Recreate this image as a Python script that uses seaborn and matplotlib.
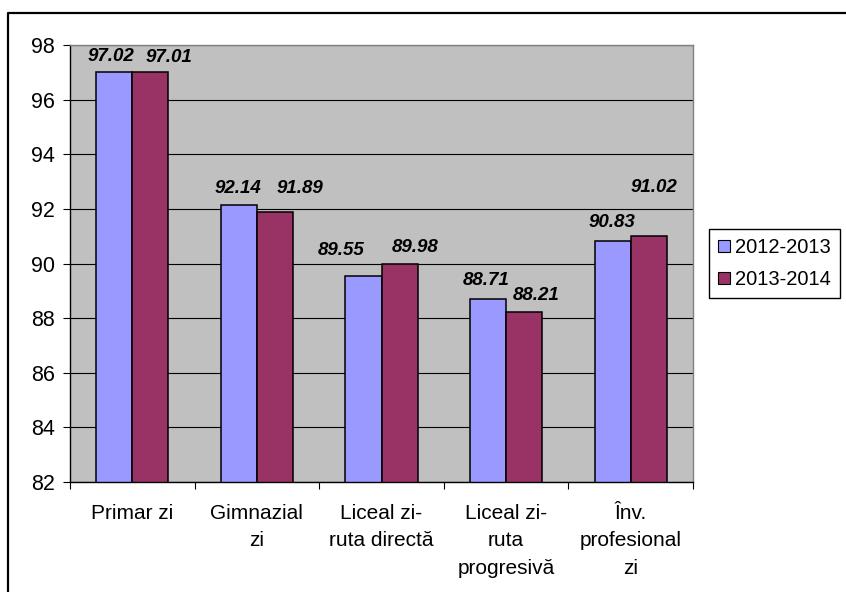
import pandas as pd
import matplotlib.pyplot as plt
import seaborn as sns
from matplotlib.patches import Patch
from matplotlib.lines import Line2D
from matplotlib.ticker import FixedLocator

categories = ["Primar zi", "Gimnazial\nzi", "Liceal zi-\nruta directă",
              "Liceal zi-\nruta\nprogresivă", "Înv.\nprofesional\nzi"]
years = ["2012-2013", "2013-2014"]
values_2012 = [97.02, 92.14, 89.55, 88.71, 90.83]
values_2013 = [97.01, 91.89, 89.98, 88.21, 91.02]
yticks = [82, 84, 86, 88, 90, 92, 94, 96, 98]

colors = ["#9999FF", "#993366"]

# label nudges in pixels (Excel moves them around to avoid overlaps)
label_dx = [[-3, -1, -22, -2, -1], [19, 25, 16, 12, 5]]
label_dy = [[15, 17, 25, 18, 18], [15, 23, 17, 17, 48]]

df = pd.DataFrame({
    "cat": categories * 2,
    "year": [years[0]] * 5 + [years[1]] * 5,
    "val": values_2012 + values_2013,
})

sns.set_style("white")
plt.rcParams["font.family"] = ["Liberation Sans", "DejaVu Sans"]
plt.rcParams["text.color"] = "black"
plt.rcParams["xtick.color"] = "black"
plt.rcParams["ytick.color"] = "black"
plt.rcParams["axes.labelcolor"] = "black"

fig = plt.figure(figsize=(8.46, 5.92), dpi=100)
ax = fig.add_axes([70 / 846, 1 - 482 / 592, (693 - 70) / 846, (482 - 45) / 592])
ax.set_facecolor("#C0C0C0")
ax.set_axisbelow(True)

sns.barplot(data=df, x="cat", y="val", hue="year", order=categories,
            hue_order=years, palette=colors, saturation=1, width=0.58,
            edgecolor="black", linewidth=1.1, legend=False, ax=ax)

ax.set_ylim(82, 98)
ax.set_xlim(-0.5, 4.5)
ax.set_yticks(yticks)
ax.yaxis.grid(True, color="black", linewidth=0.8)
ax.set_xlabel("")
ax.set_ylabel("")

# value labels
for s, cont in enumerate(ax.containers):
    for i, bar in enumerate(cont):
        ax.annotate(f"{bar.get_height():.2f}",
                    (bar.get_x() + bar.get_width() / 2, bar.get_height()),
                    xytext=(label_dx[s][i], label_dy[s][i]),
                    textcoords="offset pixels", ha="center", va="center",
                    fontsize=13.5, fontweight="bold", fontstyle="italic",
                    color="black", annotation_clip=False)

# ticks
ax.tick_params(axis="y", which="major", direction="out", length=5, width=0.8,
               color="black", labelcolor="black", labelsize=15.5, pad=6, left=True)
ax.tick_params(axis="x", which="major", length=0, labelsize=15, pad=16,
               labelcolor="black")
ax.xaxis.set_minor_locator(FixedLocator([-0.5, 0.5, 1.5, 2.5, 3.5, 4.5]))
ax.tick_params(axis="x", which="minor", direction="out", length=5, width=0.8,
               color="black", bottom=True)
for lbl in ax.get_xticklabels():
    lbl.set_linespacing(1.55)

for side in ["left", "bottom"]:
    ax.spines[side].set_color("black")
    ax.spines[side].set_linewidth(1)
for side in ["top", "right"]:
    ax.spines[side].set_color("#808080")
    ax.spines[side].set_linewidth(1)

# legend
handles = [Patch(facecolor=c, edgecolor="black", linewidth=0.8) for c in colors]
leg = fig.legend(handles, years, loc="upper left",
                 bbox_to_anchor=(709 / 846, 1 - 229 / 592), borderaxespad=0,
                 fontsize=14.5, handlelength=0.6, handleheight=0.6,
                 handletextpad=0.25, labelspacing=0.65, borderpad=0.45,
                 fancybox=False, framealpha=1, edgecolor="black")
leg.get_frame().set_linewidth(1)

# outer chart border (only top and left fall inside the image)
fig.add_artist(Line2D([8 / 846, 8 / 846, 1.01], [-0.01, 1 - 13 / 592, 1 - 13 / 592],
                      color="black", linewidth=1.6, transform=fig.transFigure))

fig.savefig("out.png", dpi=100)
